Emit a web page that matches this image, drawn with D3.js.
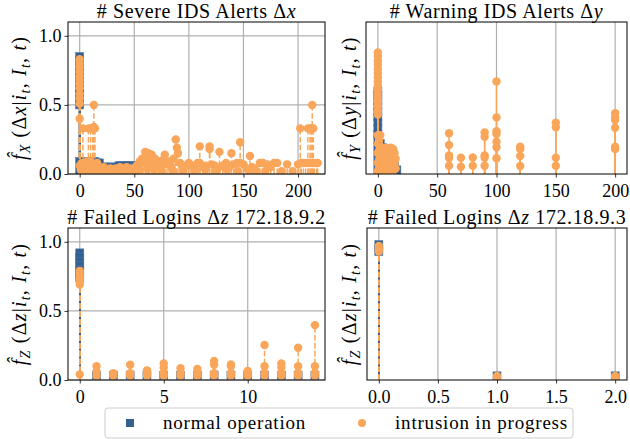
<!DOCTYPE html>
<html><head><meta charset="utf-8">
<script src="https://cdn.jsdelivr.net/npm/d3@7"></script>
<style>body{margin:0;background:#fff} text{font-family:"Liberation Serif";}</style>
</head><body><svg id="c" width="630" height="439"></svg>
<script>
const BLUE = "#335f91", ORANGE = "#f9a65a";

// ---------- data: [delta value, estimated probability] ----------
const severeNormal = [
 [0,.50],[0,.54],[0,.58],[0,.62],[0,.66],[0,.70],[0,.74],[0,.78],[0,.82],[0,.85],
 [0,.09],[2,.09],[4,.09],[6,.09],[8,.09],[10,.09],[12,.09],[14,.09],[16,.08],[18,.08],
 [20,.05],[22,.05],[24,.05],[26,.05],[28,.05],[30,.05],[32,.05],[34,.05],
 [36,.06],[38,.06],[40,.06],[42,.06],[44,.06],[46,.06],[48,.06],[50,.05],
 [0,.03],[2,.03],[4,.03],[6,.03],[8,.03],[10,.03],[12,.03],[14,.03],[16,.03],[18,.03],
 [20,.03],[22,.03],[24,.03],[26,.03],[28,.03],[30,.03],[32,.03],[34,.03],[36,.03],
 [38,.03],[40,.03],[42,.03],[44,.03],[46,.03],[48,.03],[50,.03]
];
const severeIntrusion = [
 [0,.83],[0,.80],[0,.77],[0,.74],[0,.71],[0,.68],[0,.65],[0,.62],[0,.58],[0,.55],[0,.51],[0,.40],
 [3,.33],[8,.33],[10,.33],[12,.33],[13,.50],[13,.34],[14,.33],
 [0,.06],[1,.03],[2,.08],[3,.05],[4,.06],[5,.02],[6,.09],[7,.04],[8,.05],[9,.07],[10,.09],
 [11,.03],[12,.07],[13,.05],[14,.06],[15,.02],[16,.08],[18,.04],[20,.03],[22,.05],[24,.02],
 [25,.03],[28,.04],[30,.02],[33,.04],[35,.02],[37,.05],[40,.03],[43,.05],[45,.02],[47,.04],[50,.03],
 [52,.06],[55,.09],[55,.03],[57,.11],[58,.08],[60,.16],[61,.12],[62,.04],[63,.15],[64,.10],
 [66,.14],[67,.08],[68,.03],[69,.11],[70,.06],[72,.09],[74,.05],[75,.02],[76,.10],[78,.14],
 [80,.07],[82,.09],[84,.05],[85,.03],[86,.11],[88,.25],[89,.19],[90,.15],[92,.08],[94,.05],
 [95,.02],[97,.06],[100,.08],[103,.06],[105,.02],[106,.03],[108,.08],[110,.20],[110,.08],
 [113,.05],[115,.03],[116,.06],[119,.20],[119,.18],[121,.07],[124,.06],[125,.02],[126,.03],
 [128,.16],[131,.06],[134,.08],[135,.03],[137,.05],[139,.15],[141,.07],[144,.08],[145,.02],
 [147,.23],[147,.08],[150,.07],[153,.04],[155,.03],[156,.13],[158,.05],[160,.04],[162,.02],
 [165,.08],[168,.08],[170,.02],[172,.07],[175,.05],[178,.08],[181,.08],[185,.02],[190,.07],
 [195,.02],[200,.07],[202,.33],[203,.08],[205,.08],[207,.08],[209,.33],[210,.08],[211,.33],
 [212,.33],[213,.50],[213,.08],[214,.33],[215,.08],[217,.08],[218,.08]
];
const warningNormal = [
 [0,.25],[0,.29],[0,.33],[0,.37],[0,.41],[0,.45],[0,.49],[0,.53],[0,.57],[0,.60],
 [0,.20],[0,.14],[0,.08],[0,.02],
 [2,.22],[2,.16],[2,.10],[2,.04],[4,.19],[4,.13],[4,.07],[4,.02],[6,.15],[6,.09],[6,.03],
 [8,.12],[8,.06],[10,.10],[10,.04],[12,.08],[12,.03],[14,.06],[14,.02],[16,.03]
];
const warningIntrusion = [
 [0,.88],[0,.85],[0,.82],[0,.79],[0,.76],[0,.73],[0,.70],[0,.67],[0,.64],[0,.61],[0,.58],
 [0,.55],[0,.52],[0,.49],[0,.46],[0,.43],[0,.28],[0,.22],[0,.15],[0,.08],[0,.02],
 [1,.24],[1,.17],[1,.10],[1,.04],[2,.28],[2,.20],[2,.13],[2,.06],[3,.14],[3,.07],[3,.01],
 [5,.16],[5,.09],[5,.03],[7,.19],[7,.12],[7,.05],[9,.17],[9,.10],[9,.04],[10,.02],
 [11,.19],[11,.14],[11,.07],[12,.02],[13,.18],[13,.12],[13,.06],[14,.15],[14,.08],[15,.11],[15,.04],
 [60,.295],[60,.21],[60,.135],[60,.115],[60,.06],[70,.118],[70,.053],[80,.12],[80,.06],
 [90,.30],[90,.27],[90,.135],[90,.118],[90,.06],
 [100,.67],[100,.41],[100,.31],[100,.29],[100,.234],[100,.193],[100,.114],
 [120,.198],[120,.18],[120,.13],[120,.058],[150,.372],[150,.338],[150,.118],[150,.06],
 [200,.44],[200,.41],[200,.39],[200,.335],[200,.198],[200,.18]
];
const loginsANormal = [
 [0,.92],[0,.89],[0,.86],[0,.83],[0,.80],[0,.77],[0,.74],
 [1,.035],[2,.035],[3,.035],[4,.035],[5,.035],[6,.035],[7,.035],[8,.035],[9,.035],
 [10,.035],[11,.035],[12,.035],[13,.035],[14,.035]
];
const loginsAIntrusion = [
 [0,.79],[0,.77],[0,.75],[0,.73],[0,.71],[0,.69],[0,.04],
 [1,.10],[1,.06],[1,.03],[2,.05],[2,.03],[3,.11],[3,.05],[3,.03],[4,.07],[4,.05],[4,.03],
 [5,.12],[5,.09],[5,.05],[5,.03],[6,.085],[6,.05],[6,.03],[7,.08],[7,.05],[7,.03],
 [8,.137],[8,.11],[8,.05],[8,.03],[9,.113],[9,.10],[9,.05],[9,.03],[10,.065],[10,.05],[10,.03],
 [11,.253],[11,.10],[11,.05],[11,.03],[12,.12],[12,.09],[12,.05],[12,.03],
 [13,.233],[13,.10],[13,.05],[13,.03],[14,.397],[14,.10],[14,.05],[14,.03]
];
const loginsBNormal = [[0,.98],[0,.95],[0,.93],[1,.03],[2,.03]];
const loginsBIntrusion = [[0,.97],[0,.95],[0,.93],[1,.03],[1,.02],[2,.03],[2,.02]];

const yTickValues = [0, 0.5, 1.0];
const xTicksSevere = [0, 50, 100, 150, 200];
const xTicksWarning = [0, 50, 100, 150, 200];
const xTicksLoginsA = [0, 5, 10];
const xTicksLoginsB = [0, 0.5, 1.0, 1.5, 2.0];
const legendLabels = ["normal operation", "intrusion in progress"];

const panels = [
 {box:[68,22,325,174], xd:[-10.7,224.7], ticks:xTicksSevere, fmt:d3.format("d"), left:true, dash:"5.5,2.4",
  title:[["# Severe IDS Alerts Δ",0],["x",1]], sub:"X", v:"x", lx:26, n:severeNormal, o:severeIntrusion},
 {box:[366,22,627,174], xd:[-10,210], ticks:xTicksWarning, fmt:d3.format("d"), left:false, dash:null,
  title:[["# Warning IDS Alerts Δ",0],["y",1]], sub:"Y", v:"y", lx:356, n:warningNormal, o:warningIntrusion},
 {box:[68,228,325,380], xd:[-0.7,14.6], ticks:xTicksLoginsA, fmt:d3.format("d"), left:true, dash:"5.5,2.4",
  title:[["# Failed Logins Δ",0],["z",1],[" 172.18.9.2",0]], sub:"Z", v:"z", lx:26, n:loginsANormal, o:loginsAIntrusion},
 {box:[367,228,627,380], xd:[-0.1,2.1], ticks:xTicksLoginsB, fmt:d3.format(".1f"), left:false, dash:"5.5,2.4",
  title:[["# Failed Logins Δ",0],["z",1],[" 172.18.9.3",0]], sub:"Z", v:"z", lx:356, n:loginsBNormal, o:loginsBIntrusion}
];

const svg = d3.select("#c");
const FS = 18, TFS = 20;
const SERIF = '"Liberation Serif"';

panels.forEach((p, i) => {
  const [x0,y0,x1,y1] = p.box;
  const x = d3.scaleLinear().domain(p.xd).range([x0,x1]);
  const y = d3.scaleLinear().domain([0,1.1]).range([y1,y0]);
  const g = svg.append("g");
  const cid = "clip"+i;
  svg.append("clipPath").attr("id",cid).append("rect").attr("x",x0).attr("y",y0).attr("width",x1-x0).attr("height",y1-y0);

  // grid
  const grid = g.append("g").attr("stroke","#b0b0b0").attr("stroke-width",1.2);
  p.ticks.forEach(t => grid.append("line").attr("x1",x(t)).attr("x2",x(t)).attr("y1",y0).attr("y2",y1));
  if (p.left) yTickValues.forEach(t => grid.append("line").attr("x1",x0).attr("x2",x1).attr("y1",y(t)).attr("y2",y(t)));

  const plot = g.append("g").attr("clip-path",`url(#${cid})`);
  // normal operation: solid stems + square markers
  plot.append("g").selectAll("line").data(p.n).join("line")
    .attr("x1",d=>x(d[0])).attr("x2",d=>x(d[0])).attr("y1",y(0)).attr("y2",d=>y(d[1]))
    .attr("stroke",BLUE).attr("stroke-width",1.5);
  plot.append("g").selectAll("rect").data(p.n).join("rect")
    .attr("x",d=>x(d[0])-4).attr("y",d=>y(d[1])-4).attr("width",8).attr("height",8)
    .attr("fill",BLUE).attr("stroke","#4f78a6").attr("stroke-width",0.6);
  // intrusion: dashed stems + circle markers
  plot.append("g").selectAll("line").data(p.o).join("line")
    .attr("x1",d=>x(d[0])).attr("x2",d=>x(d[0])).attr("y1",y(0)).attr("y2",d=>y(d[1]))
    .attr("stroke",ORANGE).attr("stroke-width",1.5).attr("stroke-dasharray",p.dash);
  plot.append("g").selectAll("circle").data(p.o).join("circle")
    .attr("cx",d=>x(d[0])).attr("cy",d=>y(d[1])).attr("r",4.2).attr("fill",ORANGE);

  // axes
  const xa = g.append("g").attr("transform",`translate(0,${y1})`)
    .call(d3.axisBottom(x).tickValues(p.ticks).tickFormat(p.fmt).tickSize(3.5).tickPadding(6.5));
  xa.select(".domain").remove();
  xa.selectAll("text").style("font-size",FS+"px").attr("fill","#000").style("font-family",SERIF);
  xa.selectAll("line").attr("stroke","#000").attr("stroke-width",0.8);
  if (p.left) {
    const ya = g.append("g").attr("transform",`translate(${x0},0)`)
      .call(d3.axisLeft(y).tickValues(yTickValues).tickFormat(d3.format(".1f")).tickSize(3.5).tickPadding(3));
    ya.select(".domain").remove();
    ya.selectAll("text").style("font-size",FS+"px").attr("fill","#000").style("font-family",SERIF);
    ya.selectAll("line").attr("stroke","#000").attr("stroke-width",0.8);
  }
  g.append("rect").attr("x",x0).attr("y",y0).attr("width",x1-x0).attr("height",y1-y0)
    .attr("fill","none").attr("stroke","#000").attr("stroke-width",1);

  // title
  const tt = g.append("text").attr("x",(x0+x1)/2).attr("y",y0-4).attr("text-anchor","middle")
    .style("font-family",SERIF).style("font-size",TFS+"px").style("letter-spacing","0.6px");
  p.title.forEach(([s,it]) => tt.append("tspan").text(s).style("font-style",it?"italic":"normal"));

  // y label
  const yl = g.append("text").attr("transform",`translate(${p.lx},${(y0+y1)/2}) rotate(-90)`)
    .attr("text-anchor","middle").style("font-family",SERIF).style("font-size",TFS+"px").style("letter-spacing","1.2px");
  const parts = [["f\u0302",1,0],[p.sub,1,1],[" (Δ",0,0],[p.v,1,0],["|",0,0],["i",1,0],["t",1,1],
                 [", ",0,0],["I",1,0],["t",1,1],[", ",0,0],["t",1,0],[")",0,0]];
  let inSub = false;
  parts.forEach(([s,it,sb]) => {
    const ts = yl.append("tspan").text(s).style("font-style",it?"italic":"normal");
    if (sb) { ts.style("font-size","14px"); if (!inSub) ts.attr("dy",4); inSub = true; }
    else { if (inSub) ts.attr("dy",-4); inSub = false; }
  });
});

// legend
const lg = svg.append("g");
lg.append("rect").attr("x",105).attr("y",408).attr("width",468).attr("height",30).attr("rx",3)
  .attr("fill","#fff").attr("stroke","#cccccc").attr("stroke-width",1);
lg.append("rect").attr("x",126).attr("y",419).attr("width",8).attr("height",8).attr("fill",BLUE);
lg.append("text").attr("x",163).attr("y",429).style("font-family",SERIF).style("font-size","19px").style("letter-spacing","0.8px").text(legendLabels[0]);
lg.append("circle").attr("cx",362).attr("cy",423).attr("r",4).attr("fill",ORANGE);
lg.append("text").attr("x",395).attr("y",429).style("font-family",SERIF).style("font-size","19px").style("letter-spacing","0.8px").text(legendLabels[1]);
</script></body></html>
